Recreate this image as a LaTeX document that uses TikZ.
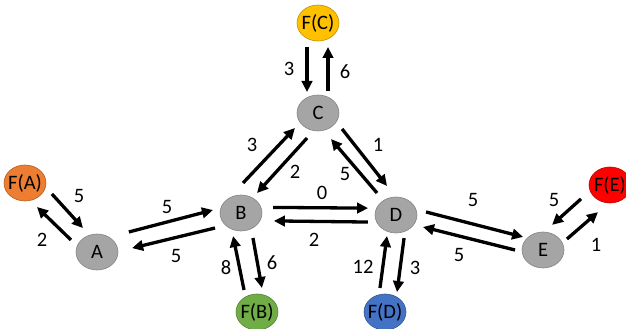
\documentclass[tikz,border=0pt]{standalone}
\usepackage{fontspec}
\setmainfont{Carlito}
\usetikzlibrary{shapes,arrows.meta,calc}
\definecolor{stategrey}{HTML}{A5A5A5}
\definecolor{orangeA}{HTML}{ED7D31}
\definecolor{greenB}{HTML}{70AD47}
\definecolor{goldC}{HTML}{FFC000}
\definecolor{blueD}{HTML}{4472C4}
\definecolor{redE}{HTML}{FF0000}
\tikzstyle{vertex} = [ellipse, draw=stategrey!80!black, line width=0.6pt, fill=stategrey, minimum width=42pt, minimum height=36pt, inner sep=0pt, font=\fontsize{20.5}{23}\selectfont, execute at begin node={\hbox to 0pt\bgroup\hss}, execute at end node={\hss\egroup}]
\tikzstyle{line} = [draw, line width=3.3pt, -{Triangle[length=11pt,width=10.5pt]}]
\tikzstyle{weight} = [font=\fontsize{20.5}{23}\selectfont, inner sep=0pt]
\tikzset{
  final/.style={vertex, fill=#1, draw=#1!75!black},
  link/.style n args={4}{to path={($(\tikztostart)!#1pt!(\tikztotarget)!#2pt!90:(\tikztotarget)$) -- ($(\tikztotarget)!#3pt!(\tikztostart)!#4pt!-90:(\tikztostart)$)}}
}

\begin{document}
\begin{tikzpicture}[x=1pt, y=1pt]
    \useasboundingbox (0,0) rectangle (626,329);
    \node [vertex] (A) at (97,77) {A};
    \node [vertex] (B) at (241,116) {B};
    \node [vertex] (C) at (318,216) {C};
    \node [vertex] (D) at (396,114) {D};
    \node [vertex] (E) at (543,79) {E};
    \node [final=orangeA] (FA) at (25,146) {F(A)};
    \node [final=greenB] (FB) at (257,17) {F(B)};
    \node [final=goldC] (FC) at (318,306) {F(C)};
    \node [final=blueD] (FD) at (385,17) {F(D)};
    \node [final=redE] (FE) at (610,144) {F(E)};

    % arrows: along/side offsets at start, then at end
    \path [line, link={27}{10.7}{26.7}{7.6}] (FA) to (A);
    \path [line, link={27.1}{9.3}{25.3}{9}] (A) to (FA);
    \path [line, link={36}{11}{26.3}{10.2}] (A) to (B);
    \path [line, link={29}{7.7}{34.9}{5.4}] (B) to (A);
    \path [line, link={26.6}{7.8}{22.9}{8.7}] (B) to (FB);
    \path [line, link={23.8}{9.3}{21.5}{11.5}] (FB) to (B);
    \path [line, link={26.5}{6.6}{25.6}{0.5}] (C) to (B);
    \path [line, link={25}{16.7}{26}{9.1}] (B) to (C);
    \path [line, link={24}{-11}{21}{-11}] (FC) to (C);
    \path [line, link={22}{-10}{24}{-10}] (C) to (FC);
    \path [line, link={27.3}{9.4}{28.5}{10.5}] (C) to (D);
    \path [line, link={29}{1.7}{28.6}{5.5}] (D) to (C);
    \path [line, link={32}{6}{28}{6.5}] (B) to (D);
    \path [line, link={28}{7.4}{33}{7.5}] (D) to (B);
    \path [line, link={28.5}{9.9}{22.4}{8.1}] (D) to (E);
    \path [line, link={27.2}{6.5}{29}{5.4}] (E) to (D);
    \path [line, link={30.5}{-10.2}{24}{-11.7}] (FE) to (E);
    \path [line, link={24.9}{-8.8}{27.5}{-11.1}] (E) to (FE);
    \path [line, link={23.3}{7.7}{21.9}{6.6}] (FD) to (D);
    \path [line, link={22}{10.6}{21.2}{9.7}] (D) to (FD);

    % weights
    \node [weight] (wFAA) at (79,133) {5};
    \node [weight] (wAFA) at (42,89) {2};
    \node [weight] (wAB) at (167,122) {5};
    \node [weight] (wBA) at (176,73) {5};
    \node [weight] (wFBB) at (226,61) {8};
    \node [weight] (wBFB) at (272,66) {6};
    \node [weight] (wCB) at (295,157) {2};
    \node [weight] (wBC) at (252,184) {3};
    \node [weight] (wFCC) at (289,260) {3};
    \node [weight] (wCFC) at (345,257) {6};
    \node [weight] (wCD) at (378,184) {1};
    \node [weight] (wDC) at (345,155) {5};
    \node [weight] (wBD) at (322,136) {0};
    \node [weight] (wDB) at (314,89) {2};
    \node [weight] (wDE) at (473,129) {5};
    \node [weight] (wED) at (459,74) {5};
    \node [weight] (wFEE) at (554,129) {5};
    \node [weight] (wEFE) at (596,84) {1};
    \node [weight] (wFDD) at (363,62) {12};
    \node [weight] (wDFD) at (415,61) {3};
\end{tikzpicture}
\end{document}
